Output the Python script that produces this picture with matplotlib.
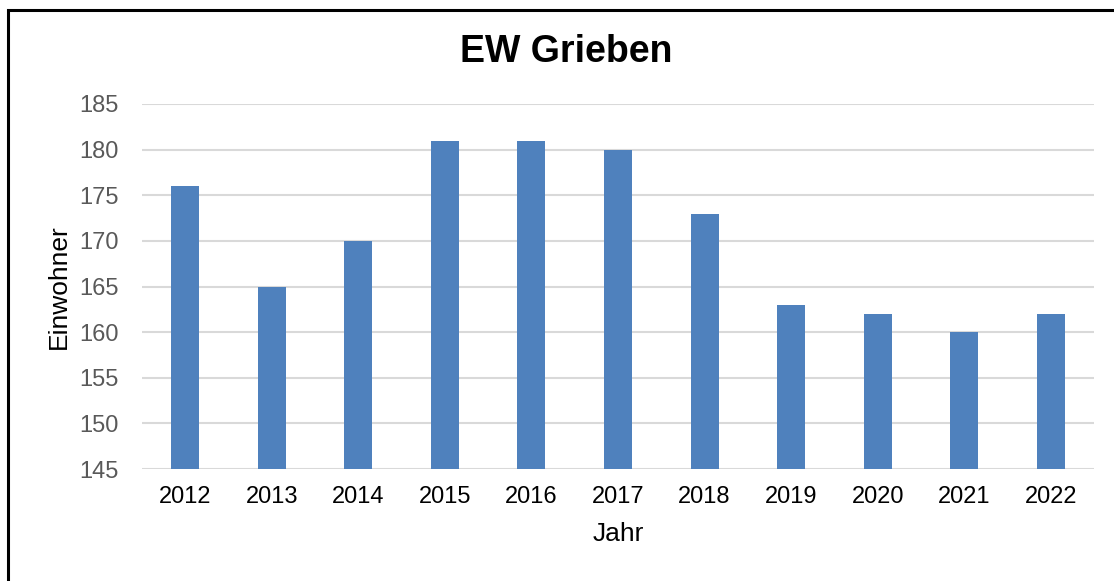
import matplotlib.pyplot as plt
from matplotlib.patches import Rectangle

plt.rcParams['font.family'] = ['Liberation Sans', 'DejaVu Sans']

jahre = ['2012', '2013', '2014', '2015', '2016', '2017', '2018', '2019', '2020', '2021', '2022']
einwohner = [176, 165, 170, 181, 181, 180, 173, 163, 162, 160, 162]
y_ticks = [145, 150, 155, 160, 165, 170, 175, 180, 185]

fig = plt.figure(figsize=(11.14, 5.81), dpi=100)
ax = fig.add_axes([142 / 1114, 1 - 469 / 581, (1094 - 142) / 1114, (469 - 104) / 581])

x = range(len(jahre))
ax.bar(x, einwohner, width=0.324, color='#4F81BD', zorder=3)

ax.set_xlim(-0.5, len(jahre) - 0.5)
ax.set_ylim(145, 185)
ax.set_yticks(y_ticks)
ax.set_xticks(list(x))
ax.set_xticklabels(jahre)
ax.grid(axis='y', color='#D9D9D9', linewidth=1.5, zorder=0)
for s in ax.spines.values():
    s.set_visible(False)
ax.tick_params(length=0)
ax.tick_params(axis='y', labelsize=17, labelcolor='#595959', pad=17)
ax.tick_params(axis='x', labelsize=17, labelcolor='black', pad=12)

ax.set_xlabel('Jahr', fontsize=19, labelpad=10)
ax.set_ylabel('Einwohner', fontsize=19, labelpad=6)
fig.text(566 / 1114, 1 - 52 / 581, 'EW Grieben', fontsize=27, fontweight='bold',
         ha='center', va='center')

# Rahmen um das Diagramm
fig.patches.append(Rectangle((8 / 1114, -0.1), 1.2, 1 - 10 / 581 + 0.1, transform=fig.transFigure,
                             fill=False, edgecolor='black', linewidth=2.2))

plt.savefig('out.png', dpi=100)
